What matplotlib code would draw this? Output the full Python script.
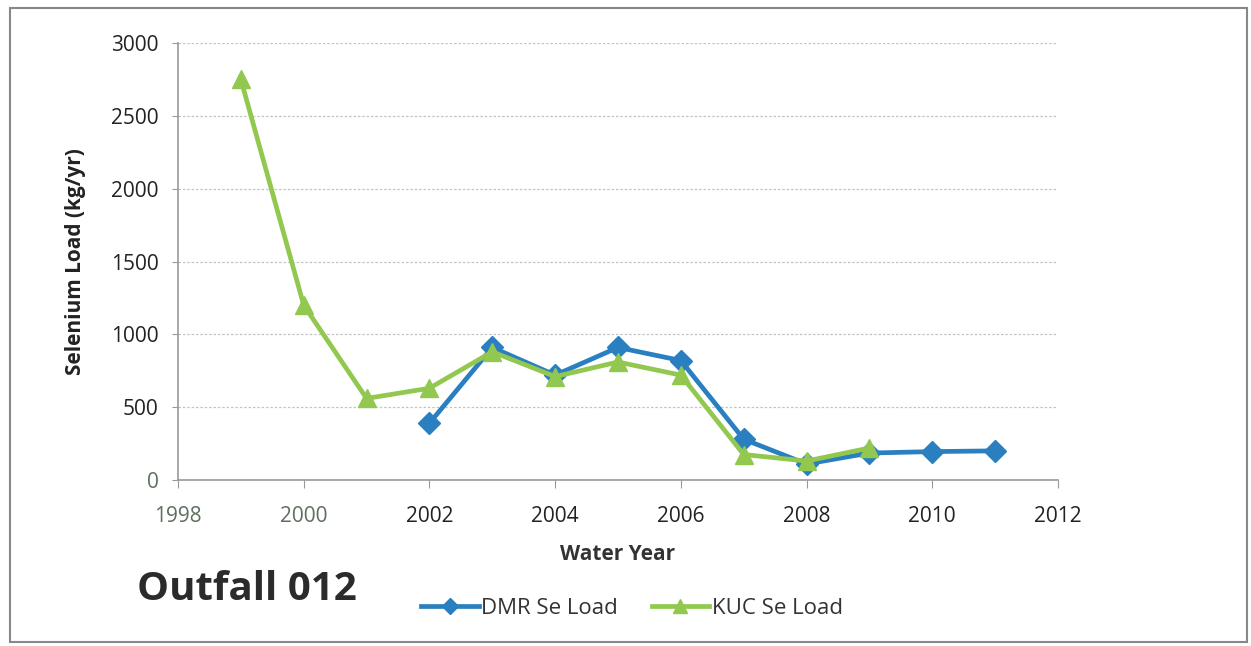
import matplotlib
matplotlib.use('Agg')
import matplotlib.pyplot as plt
from matplotlib.patches import Rectangle

# data
dmr_years = [2002, 2003, 2004, 2005, 2006, 2007, 2008, 2009, 2010, 2011]
dmr_load = [390, 910, 720, 910, 820, 280, 110, 185, 195, 200]
kuc_years = [1999, 2000, 2001, 2002, 2003, 2004, 2005, 2006, 2007, 2008, 2009]
kuc_load = [2750, 1200, 560, 630, 880, 710, 810, 720, 175, 130, 220]

x_ticks = [1998, 2000, 2002, 2004, 2006, 2008, 2010, 2012]
y_ticks = [0, 500, 1000, 1500, 2000, 2500, 3000]

plt.rcParams['font.family'] = ['Open Sans', 'DejaVu Sans']

fig = plt.figure(figsize=(12.51, 6.46), dpi=100)
ax = fig.add_axes([178/1251, 1 - 480/646, 880/1251, 437/646])

ax.plot(dmr_years, dmr_load, color='#2a7fc0', lw=3.4, marker='D', ms=11,
        label='DMR Se Load', zorder=3)
ax.plot(kuc_years, kuc_load, color='#92c84f', lw=3.4, marker='^', ms=13,
        label='KUC Se Load', zorder=4)

ax.set_xlim(1998, 2012)
ax.set_ylim(0, 3000)
ax.set_xticks(x_ticks)
ax.set_yticks(y_ticks)
ax.tick_params(axis='both', labelsize=15, colors='#999999', labelcolor='#222222')
ax.tick_params(axis='x', direction='out', length=6, pad=13)
ax.tick_params(axis='y', direction='out', length=4, pad=10)
for lbl in ax.get_xticklabels()[:2]:
    lbl.set_color('#5f6f5f')
ax.get_yticklabels()[0].set_color('#5f6f5f')

ax.grid(axis='y', color='#c4c4c4', ls=(0, (2, 1.5)), lw=0.9)
ax.set_axisbelow(True)
for s in ['top', 'right']:
    ax.spines[s].set_visible(False)
for s in ['left', 'bottom']:
    ax.spines[s].set_color('#999999')
    ax.spines[s].set_linewidth(1.2)

ax.set_xlabel('Water Year', fontsize=15, fontweight='bold', color='#333333', labelpad=12)
ax.set_ylabel('Selenium Load (kg/yr)', fontsize=15, fontweight='bold', color='#222222', labelpad=18)

fig.text(137/1251, 1 - 590/646, 'Outfall 012', fontsize=29, fontweight='bold',
         color='#2b2b2b', va='center', ha='left')

leg = fig.legend(loc='center', bbox_to_anchor=(632/1251, 1 - 608/646), ncol=2,
                 frameon=False, fontsize=16, handlelength=2.6, columnspacing=1.5,
                 handletextpad=0.1, markerscale=0.75)
for t in leg.get_texts():
    t.set_color('#333333')

fig.patches.append(Rectangle((10/1251, 1 - 642/646), 1237/1251, 634/646,
                             transform=fig.transFigure, fill=False,
                             edgecolor='#888888', lw=1.5))

fig.savefig('out.png', dpi=100)
